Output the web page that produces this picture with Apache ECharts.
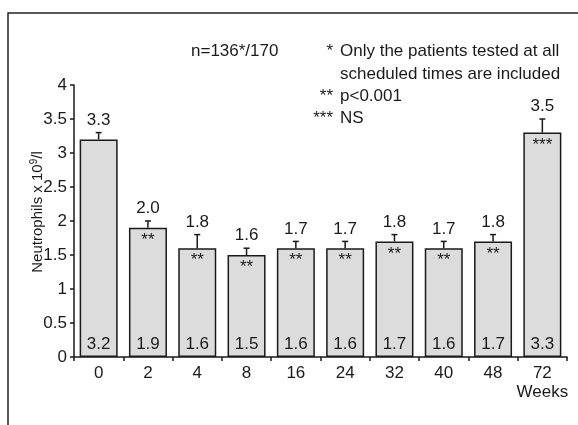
<!DOCTYPE html>
<html>
<head>
<meta charset="utf-8">
<script src="https://cdn.jsdelivr.net/npm/echarts@6/dist/echarts.min.js"></script>
<style>
  html, body { margin: 0; padding: 0; background: #fff; }
  #chart { width: 578px; height: 425px; }
</style>
</head>
<body>
<div id="chart"></div>
<script>
// Neutrophil counts by week of follow-up
const weeks = ['0', '2', '4', '8', '16', '24', '32', '40', '48', '72'];
const meanValues = [3.2, 1.9, 1.6, 1.5, 1.6, 1.6, 1.7, 1.6, 1.7, 3.3];
const upperValues = [3.3, 2.0, 1.8, 1.6, 1.7, 1.7, 1.8, 1.7, 1.8, 3.5];
const significance = ['', '**', '**', '**', '**', '**', '**', '**', '**', '***'];
const yTickValues = [0, 0.5, 1, 1.5, 2, 2.5, 3, 3.5, 4];

const FONT = "'Liberation Sans', Arial, sans-serif";
const INK = '#1a1a1a';

const chart = echarts.init(document.getElementById('chart'));

const errorData = weeks.map((w, i) => [i, meanValues[i], upperValues[i]]);

// footnote lines at the top right: [marker, text, baseline-centre y]
const notes = [
  ['*', 'Only the patients tested at all', 51],
  ['', 'scheduled times are included', 74],
  ['**', 'p<0.001', 96],
  ['***', 'NS', 118]
];

const noteGraphics = [];
notes.forEach(([mark, text, y]) => {
  if (mark) {
    noteGraphics.push({
      type: 'text',
      style: { text: mark, x: 333, y, align: 'right', verticalAlign: 'middle', fill: INK, font: '17px ' + FONT }
    });
  }
  noteGraphics.push({
    type: 'text',
    style: { text, x: 340, y, verticalAlign: 'middle', fill: INK, font: '17px ' + FONT }
  });
});

chart.setOption({
  animation: false,
  backgroundColor: '#fff',
  grid: { left: 74, right: 11, top: 85, bottom: 68, containLabel: false },
  xAxis: {
    type: 'category',
    data: weeks,
    axisLine: { lineStyle: { color: INK, width: 1.5 } },
    axisTick: { show: true, length: 4, interval: 0, lineStyle: { color: INK, width: 1.5 } },
    axisLabel: {
      interval: 0,
      color: INK,
      fontFamily: FONT,
      fontSize: 17,
      lineHeight: 19,
      margin: 7,
      formatter: (v, i) => (i === weeks.length - 1 ? v + '\nWeeks' : v)
    }
  },
  yAxis: {
    type: 'value',
    min: yTickValues[0],
    max: yTickValues[yTickValues.length - 1],
    interval: yTickValues[1] - yTickValues[0],
    splitLine: { show: false },
    axisLine: { show: true, lineStyle: { color: INK, width: 1.5 } },
    axisTick: { show: true, length: 4, lineStyle: { color: INK, width: 1.5 } },
    axisLabel: { color: INK, fontFamily: FONT, fontSize: 17, margin: 7 }
  },
  series: [
    {
      type: 'bar',
      data: meanValues,
      barWidth: 38,
      itemStyle: { color: '#dcdcdc', borderColor: INK, borderWidth: 1.5 },
      label: {
        show: true,
        position: 'insideBottom',
        distance: 4,
        color: INK,
        fontFamily: FONT,
        fontSize: 17,
        formatter: (p) => p.value.toFixed(1)
      },
      z: 2
    },
    {
      type: 'custom',
      data: errorData,
      z: 3,
      renderItem: (params, api) => {
        const idx = api.value(0);
        const base = api.coord([idx, api.value(1)]);
        const top = api.coord([idx, api.value(2)]);
        const stars = significance[idx];
        const children = [
          {
            type: 'line',
            shape: { x1: base[0], y1: base[1], x2: top[0], y2: top[1] },
            style: { stroke: INK, lineWidth: 1.5 }
          },
          {
            type: 'line',
            shape: { x1: top[0] - 3, y1: top[1], x2: top[0] + 3, y2: top[1] },
            style: { stroke: INK, lineWidth: 1.5 }
          },
          {
            type: 'text',
            style: {
              text: upperValues[idx].toFixed(1),
              x: top[0],
              y: top[1] - 4,
              align: 'center',
              verticalAlign: 'bottom',
              fill: INK,
              font: '17px ' + FONT
            }
          }
        ];
        if (stars) {
          children.push({
            type: 'text',
            style: {
              text: stars,
              x: base[0],
              y: base[1] + 4,
              align: 'center',
              verticalAlign: 'top',
              fill: INK,
              font: '17px ' + FONT
            }
          });
        }
        return { type: 'group', children };
      }
    }
  ],
  graphic: [
    {
      type: 'polyline',
      shape: { points: [[8, 425], [8, 13], [578, 13]] },
      style: { stroke: '#222', lineWidth: 1.5, fill: null }
    },
    {
      type: 'text',
      x: 38,
      y: 212,
      rotation: Math.PI / 2,
      style: {
        text: 'Neutrophils x 10{sup|9}/l',
        align: 'center',
        verticalAlign: 'middle',
        fill: INK,
        font: '15px ' + FONT,
        rich: {
          sup: { fontFamily: FONT, fontSize: 10, fill: INK, verticalAlign: 'top', lineHeight: 17 }
        }
      }
    },
    {
      type: 'text',
      style: { text: 'n=136*/170', x: 191, y: 51, verticalAlign: 'middle', fill: INK, font: '17px ' + FONT }
    },
    ...noteGraphics
  ]
});
</script>
</body>
</html>
